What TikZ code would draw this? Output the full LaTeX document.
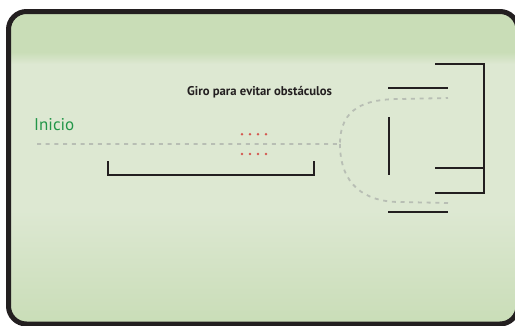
\documentclass[tikz,border=0pt]{standalone}
\usepackage{fontspec}
\setmainfont{PT Sans}
\usepackage{tikz}
\definecolor{bandgreen}{RGB}{201,221,183}
\definecolor{palegreen}{RGB}{221,232,210}
\definecolor{basegreen}{RGB}{201,221,183}
\definecolor{startgreen}{RGB}{34,150,72}
\definecolor{pathgray}{RGB}{184,190,180}
\definecolor{dotred}{RGB}{212,88,80}
\definecolor{inkblack}{RGB}{35,31,32}

\begin{document}
\begin{tikzpicture}[x=1pt,y=-1pt,
  wall/.style={draw=inkblack,line width=2pt},
  route/.style={draw=pathgray,line width=1.8pt,dash pattern=on 4pt off 4.7pt},
  marker/.style={fill=dotred}]
\useasboundingbox (0,0) rectangle (515,325);
\clip (0,0) rectangle (515,325);

\begin{scope}
\clip[rounded corners=18pt] (8.5,11.5) rectangle (518,324);
\fill[bandgreen] (0,0) rectangle (515,52);
\shade[top color=bandgreen,bottom color=palegreen] (0,52) rectangle (515,64);
\fill[palegreen] (0,64) rectangle (515,210);
\shade[top color=palegreen,bottom color=basegreen] (0,210) rectangle (515,325);
\end{scope}
\draw[inkblack,line width=5pt,rounded corners=18pt] (8.5,11.5) rectangle (518,324);

\coordinate (start) at (37,144);
\coordinate (split) at (340,144);
\coordinate (upend) at (448,98);
\coordinate (lowend) at (448,203);

\coordinate (b1) at (108,161);
\coordinate (b2) at (108,175);
\coordinate (b3) at (314,175);
\coordinate (b4) at (314,161);

\coordinate (w1) at (435,64);
\coordinate (w2) at (484,64);
\coordinate (w3) at (484,193);
\coordinate (w4) at (435,193);
\coordinate (w5) at (435,168);
\coordinate (w6) at (484,168);
\coordinate (u1) at (388,88);
\coordinate (u2) at (448,88);
\coordinate (m1) at (389,117);
\coordinate (m2) at (389,175);
\coordinate (d1) at (388,212);
\coordinate (d2) at (448,212);

\draw[route] (start) -- (split) .. controls (340,108) and (365,99) .. (400,99) -- (upend);
\draw[route] (split) .. controls (340,185) and (365,202) .. (400,202) -- (lowend);

\draw[wall] (b1)--(b2)--(b3)--(b4);
\draw[wall] (w1)--(w2)--(w3)--(w4);
\draw[wall] (w5)--(w6);
\draw[wall] (u1)--(u2);
\draw[wall] (m1)--(m2);
\draw[wall] (d1)--(d2);

\foreach \x in {242,250,258,266}
{\fill[marker] (\x,134.3) circle (1.4);
 \fill[marker] (\x,154) circle (1.4);}

\node[text=startgreen,font=\fontsize{17}{20}\selectfont,anchor=base west,inner sep=0] (inicio) at (34,130) {Inicio};
\node[text=inkblack,font=\bfseries\fontsize{12.7}{15}\selectfont,anchor=base west,inner sep=0] (giro) at (187,95.5) {Giro para evitar obstáculos};
\end{tikzpicture}
\end{document}
